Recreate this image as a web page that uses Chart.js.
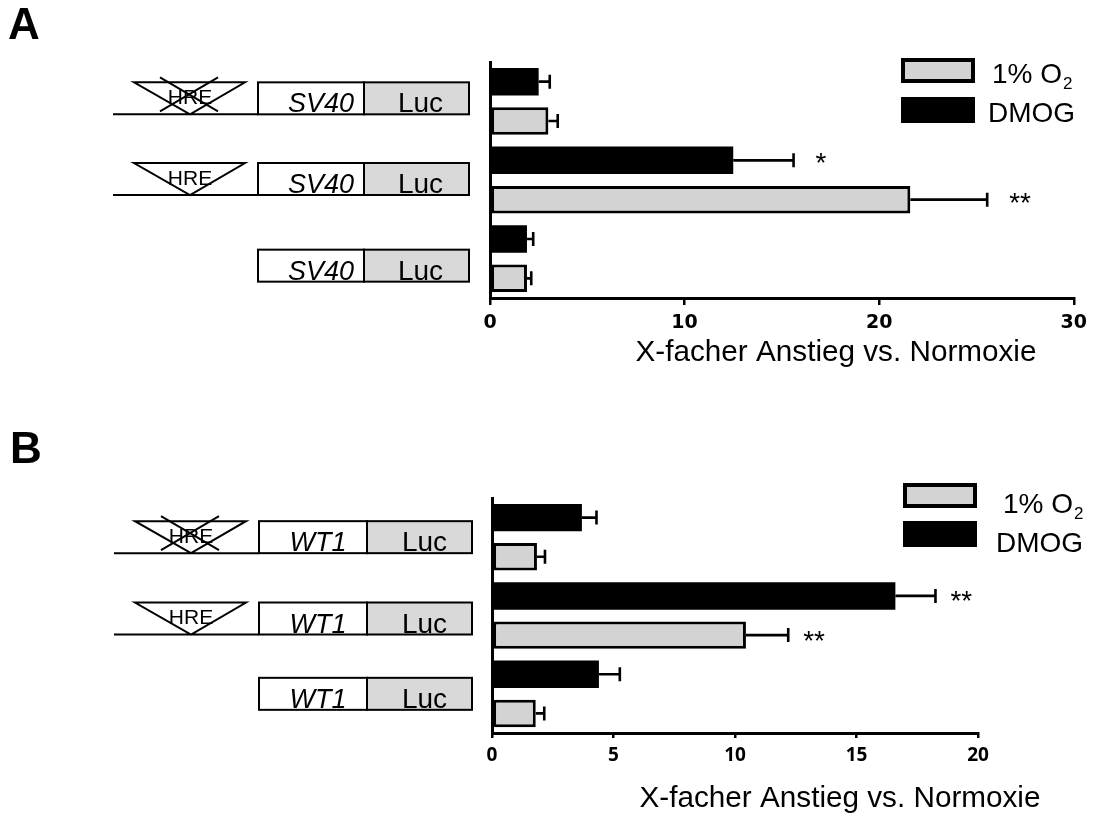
<!DOCTYPE html>
<html>
<head>
<meta charset="utf-8">
<title>HRE Luciferase</title>
<script src="https://cdn.jsdelivr.net/npm/chart.js@4.4.1/dist/chart.umd.min.js"></script>
<style>
  html, body { margin: 0; padding: 0; background: #fff; }
  body { width: 1094px; height: 816px; position: relative; overflow: hidden; }
  canvas { position: absolute; left: 0; }
  #chartA { top: 0; }
  #chartB { top: 408px; }
</style>
</head>
<body>
<canvas id="chartA" width="1094" height="408"></canvas>
<canvas id="chartB" width="1094" height="408"></canvas>
<script>
// panel A: SV40 promoter
const constructsA = ['mutHRE-SV40-Luc', 'HRE-SV40-Luc', 'SV40-Luc'];
const dmogA = [2.5, 12.5, 1.9];
const dmogErrA = [0.57, 3.1, 0.32];
const hypoxiaA = [3.0, 21.6, 1.9];
const hypoxiaErrA = [0.48, 3.95, 0.22];
const dmogStarsA = ['', '*', ''];
const hypoxiaStarsA = ['', '**', ''];
const ticksA = [0, 10, 20, 30];

// panel B: WT1 promoter
const constructsB = ['mutHRE-WT1-Luc', 'HRE-WT1-Luc', 'WT1-Luc'];
const dmogB = [3.7, 16.6, 4.4];
const dmogErrB = [0.6, 1.65, 0.86];
const hypoxiaB = [1.85, 10.45, 1.8];
const hypoxiaErrB = [0.33, 1.74, 0.35];
const dmogStarsB = ['', '**', ''];
const hypoxiaStarsB = ['', '**', ''];
const ticksB = [0, 5, 10, 15, 20];

const hreStatus = ['mutiert', 'intakt', 'keins'];
const axisTitle = 'X-facher Anstieg vs. Normoxie';

const SANS = '"Liberation Sans", Arial, sans-serif';
const GREY = '#d3d3d3';

function decor(cfg) {
    return {
        id: 'decor' + cfg.letter,
        afterDatasetsDraw(chart) {
            const ctx = chart.ctx;
            const xs = chart.scales.x;
            ctx.save();
            ctx.strokeStyle = '#000';
            ctx.fillStyle = '#000';
            ctx.lineWidth = 2.6;
            chart.data.datasets.forEach((ds, d) => {
                const errs = d === 0 ? cfg.dmogErr : cfg.hypoxiaErr;
                const stars = d === 0 ? cfg.dmogStars : cfg.hypoxiaStars;
                chart.getDatasetMeta(d).data.forEach((bar, i) => {
                    const xe = xs.getPixelForValue(ds.data[i] + errs[i]);
                    ctx.beginPath();
                    ctx.moveTo(bar.x, bar.y);
                    ctx.lineTo(xe, bar.y);
                    ctx.moveTo(xe, bar.y - 7);
                    ctx.lineTo(xe, bar.y + 7);
                    ctx.stroke();
                    if (stars[i]) {
                        ctx.font = '28px ' + SANS;
                        ctx.textAlign = 'left';
                        ctx.textBaseline = 'alphabetic';
                        ctx.fillText(stars[i], xe + cfg.starGap, bar.y + cfg.starDrop);
                    }
                });
            });
            ctx.restore();
        },
        afterDraw(chart) {
            const ctx = chart.ctx;
            const ys = chart.scales.y;
            ctx.save();
            ctx.fillStyle = '#000';

            // panel letter
            ctx.font = 'bold 44px ' + SANS;
            ctx.textAlign = 'left';
            ctx.textBaseline = 'alphabetic';
            ctx.fillText(cfg.letter, cfg.letterPos[0], cfg.letterPos[1]);

            // axis title
            ctx.font = '29.7px ' + SANS;
            ctx.textAlign = 'center';
            ctx.textBaseline = 'middle';
            ctx.fillText(axisTitle, cfg.titlePos[0], cfg.titlePos[1]);

            // legend: 1% O2 first, DMOG second
            const lg = cfg.legend;
            ctx.fillStyle = GREY;
            ctx.fillRect(lg.x, lg.y[0], 74, 25);
            ctx.strokeStyle = '#000';
            ctx.lineWidth = 4;
            ctx.strokeRect(lg.x + 2, lg.y[0] + 2, 70, 21);
            ctx.fillStyle = '#000';
            ctx.fillRect(lg.x, lg.y[1], 74, 26);

            ctx.textAlign = 'left';
            ctx.textBaseline = 'alphabetic';
            ctx.font = '28px ' + SANS;
            ctx.fillText('1% O', lg.textX[0], lg.base[0]);
            const w = ctx.measureText('1% O').width;
            ctx.font = '17px ' + SANS;
            ctx.fillText('2', lg.textX[0] + w + 1, lg.base[0] + 6);
            ctx.font = '28px ' + SANS;
            ctx.fillText('DMOG', lg.textX[1], lg.base[1]);

            // reporter constructs next to each group
            const L = cfg.box[0], M = cfg.box[1], R = cfg.box[2];
            hreStatus.forEach((status, i) => {
                const cy = ys.getPixelForValue(i) + cfg.shift[i];
                const top = cy - 16, bot = cy + 16;
                ctx.lineWidth = 2;
                ctx.strokeStyle = '#000';
                ctx.fillStyle = '#fff';
                ctx.fillRect(L, top, M - L, 32);
                ctx.strokeRect(L, top, M - L, 32);
                ctx.fillStyle = '#d9d9d9';
                ctx.fillRect(M, top, R - M, 32);
                ctx.strokeRect(M, top, R - M, 32);

                ctx.fillStyle = '#000';
                ctx.textAlign = 'center';
                ctx.textBaseline = 'alphabetic';
                ctx.font = 'italic 27px ' + SANS;
                ctx.fillText(cfg.promoter, (L + M) / 2 + cfg.promoterShift, bot - 2);
                ctx.font = '28px ' + SANS;
                ctx.fillText('Luc', (M + R) / 2 + cfg.lucShift, bot - 2);

                if (status === 'keins') return;
                ctx.beginPath();
                ctx.moveTo(L - 145, bot);
                ctx.lineTo(L, bot);
                ctx.moveTo(L - 124, top);
                ctx.lineTo(L - 13, top);
                ctx.lineTo(L - 68, bot);
                ctx.closePath();
                ctx.stroke();
                ctx.font = '21px ' + SANS;
                ctx.textBaseline = 'middle';
                ctx.fillText('HRE', L - 68, top + 16);
                if (status === 'mutiert') {
                    const cx = L - 69, cyx = top + 12;
                    ctx.beginPath();
                    ctx.moveTo(cx - 29, cyx - 17);
                    ctx.lineTo(cx + 29, cyx + 17);
                    ctx.moveTo(cx + 29, cyx - 17);
                    ctx.lineTo(cx - 29, cyx + 17);
                    ctx.stroke();
                }
            });
            ctx.restore();
        }
    };
}

function makeChart(id, cfg) {
    const ticks = cfg.ticks;
    return new Chart(document.getElementById(id), {
        type: 'bar',
        data: {
            labels: cfg.labels,
            datasets: [
                {
                    label: 'DMOG',
                    data: cfg.dmog,
                    backgroundColor: '#000',
                    borderColor: '#000',
                    borderWidth: 0,
                    categoryPercentage: 1,
                    barPercentage: 0.7
                },
                {
                    label: '1% O2',
                    data: cfg.hypoxia,
                    backgroundColor: GREY,
                    borderColor: '#000',
                    borderWidth: 3,
                    borderSkipped: false,
                    categoryPercentage: 1,
                    barPercentage: 0.7
                }
            ]
        },
        options: {
            indexAxis: 'y',
            responsive: false,
            animation: false,
            devicePixelRatio: 1,
            layout: { padding: cfg.pad },
            plugins: { legend: { display: false }, tooltip: { enabled: false } },
            scales: {
                x: {
                    type: 'linear',
                    min: ticks[0],
                    max: ticks[ticks.length - 1],
                    ticks: {
                        stepSize: ticks[1] - ticks[0],
                        color: '#000',
                        padding: cfg.tickPad,
                        font: cfg.tickFont
                    },
                    grid: {
                        display: true,
                        drawOnChartArea: false,
                        drawTicks: true,
                        tickLength: cfg.tickLen,
                        color: '#000',
                        lineWidth: 2.5
                    },
                    border: { display: true, color: '#000', width: 3 },
                    afterFit: (s) => { s.height = cfg.xHeight; }
                },
                y: {
                    type: 'category',
                    ticks: { display: false },
                    grid: { display: false },
                    border: { display: true, color: '#000', width: 3 },
                    afterFit: (s) => { s.width = 0; }
                }
            }
        },
        plugins: [decor(cfg)]
    });
}

makeChart('chartA', {
    letter: 'A',
    letterPos: [8, 39],
    labels: constructsA,
    dmog: dmogA, dmogErr: dmogErrA, dmogStars: dmogStarsA,
    hypoxia: hypoxiaA, hypoxiaErr: hypoxiaErrA, hypoxiaStars: hypoxiaStarsA,
    ticks: ticksA,
    pad: { left: 490, right: 18, top: 62, bottom: 0 },
    xHeight: 110,
    tickLen: 7,
    tickPad: 7,
    tickFont: { family: '"DejaVu Sans", sans-serif', weight: 'bold', size: 19 },
    titlePos: [836, 352.5],
    legend: { x: 901, y: [58, 97], textX: [992, 988], base: [83, 122] },
    box: [258, 364, 469],
    shift: [-3, -1, 7],
    promoter: 'SV40',
    promoterShift: 10,
    lucShift: 4,
    starGap: 22,
    starDrop: 12
});

makeChart('chartB', {
    letter: 'B',
    letterPos: [10, 55],
    labels: constructsB,
    dmog: dmogB, dmogErr: dmogErrB, dmogStars: dmogStarsB,
    hypoxia: hypoxiaB, hypoxiaErr: hypoxiaErrB, hypoxiaStars: hypoxiaStarsB,
    ticks: ticksB,
    pad: { left: 492, right: 116, top: 90, bottom: 0 },
    xHeight: 83,
    tickLen: 5,
    tickPad: 6,
    tickFont: { family: '"Open Sans", sans-serif', weight: 'bold', size: 19 },
    titlePos: [840, 391],
    legend: { x: 903, y: [75, 113], textX: [1003, 996], base: [105, 144] },
    box: [259, 367, 472],
    shift: [0, 3, 0],
    promoter: 'WT1',
    promoterShift: 5,
    lucShift: 5,
    starGap: 15,
    starDrop: 14.5
});
</script>
</body>
</html>
